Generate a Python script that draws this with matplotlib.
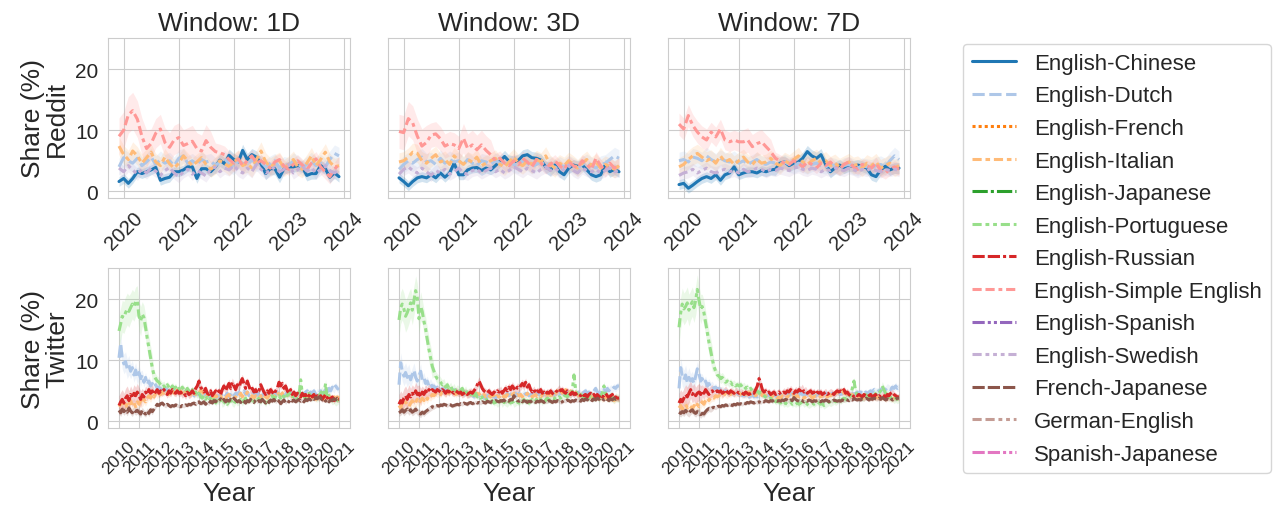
import numpy as np
import pandas as pd
import matplotlib
matplotlib.use("Agg")
import matplotlib.pyplot as plt
import matplotlib.dates as mdates
from matplotlib.lines import Line2D
import seaborn as sns

sns.set_style("whitegrid")
plt.rcParams["font.family"] = ["Liberation Sans", "DejaVu Sans"]

# ---------------------------------------------------------------- categories
pairs = ["English-Chinese", "English-Dutch", "English-French", "English-Italian",
         "English-Japanese", "English-Portuguese", "English-Russian",
         "English-Simple English", "English-Spanish", "English-Swedish",
         "French-Japanese", "German-English", "Spanish-Japanese"]
windows = ["1D", "3D", "7D"]

# ---------------------------------------------------------------- Reddit (monthly, Dec 2019 - Dec 2023)
reddit_dates = pd.date_range("2019-12-01", periods=49, freq="MS")

reddit_1d_chinese = [1.6, 2.1, 1.3, 2.1, 3.2, 2.9, 3.2, 3.5, 3.9, 1.8, 2.1, 2.3, 3.2, 3.2, 3.5, 4.0, 4.0, 2.1, 3.7, 3.7, 3.2, 4.0, 5.1, 4.5, 5.9, 5.2, 4.8, 6.7, 5.2, 6.0, 5.6, 4.5, 2.9, 3.7, 3.7, 2.3, 3.7, 4.0, 4.0, 4.2, 4.0, 2.6, 2.9, 2.9, 4.2, 3.7, 2.3, 3.0, 2.4]
reddit_1d_dutch = [4.0, 5.5, 5.0, 4.6, 5.4, 4.2, 4.8, 5.6, 4.4, 5.2, 4.6, 5.0, 4.2, 5.4, 5.8, 4.6, 5.0, 4.4, 5.2, 4.8, 5.0, 4.2, 4.8, 5.4, 4.4, 4.0, 5.0, 4.6, 4.2, 5.2, 4.4, 4.8, 4.0, 4.6, 5.0, 3.8, 4.4, 4.2, 5.0, 4.6, 3.8, 4.4, 5.0, 4.2, 4.6, 4.0, 5.2, 6.2, 5.8]
reddit_1d_italian = [7.4, 6.0, 5.2, 6.6, 5.8, 4.6, 5.5, 6.4, 4.8, 4.2, 5.6, 4.5, 3.8, 4.6, 5.8, 5.0, 4.2, 4.8, 5.5, 4.4, 3.6, 4.2, 5.0, 4.6, 4.0, 4.8, 5.4, 4.2, 4.6, 3.8, 5.2, 6.6, 4.8, 4.0, 4.5, 5.0, 3.8, 4.4, 5.2, 4.0, 3.6, 4.6, 5.8, 4.2, 5.2, 6.4, 4.8, 4.0, 4.2]
reddit_1d_simple = [9.0, 10.0, 12.5, 13.2, 11.8, 9.0, 7.0, 7.8, 9.5, 10.2, 8.0, 7.2, 8.4, 8.8, 7.5, 7.8, 8.2, 7.0, 6.6, 8.3, 7.2, 6.5, 6.3, 6.0, 5.2, 4.6, 5.3, 4.2, 5.0, 5.8, 4.6, 5.0, 4.4, 3.8, 4.8, 5.2, 4.1, 3.6, 4.4, 5.0, 4.3, 3.5, 4.6, 5.3, 4.0, 3.2, 2.4, 3.6, 4.5]
reddit_1d_swedish = [3.8, 3.2, 4.2, 3.5, 2.8, 3.6, 3.0, 3.8, 3.3, 2.6, 3.4, 3.9, 3.0, 2.4, 3.2, 3.6, 2.8, 3.4, 3.0, 2.5, 3.6, 4.0, 3.2, 3.8, 3.5, 4.2, 3.4, 3.0, 3.8, 3.2, 4.4, 3.6, 3.0, 3.4, 4.0, 3.2, 3.6, 4.4, 3.0, 3.5, 4.1, 3.3, 3.8, 3.0, 3.6, 4.2, 3.4, 3.0, 3.5]

reddit_3d_chinese = [2.2, 1.6, 0.9, 1.6, 2.2, 2.4, 2.2, 2.7, 2.2, 3.0, 2.3, 3.0, 4.6, 2.7, 2.7, 3.5, 3.8, 3.9, 3.4, 3.8, 3.5, 4.2, 4.9, 5.7, 4.9, 4.8, 5.1, 5.8, 6.0, 5.5, 5.4, 5.1, 4.0, 3.5, 4.3, 3.2, 2.7, 3.8, 4.3, 4.1, 4.3, 3.5, 2.7, 2.4, 2.7, 4.4, 3.2, 3.6, 3.2]
reddit_3d_dutch = [3.6, 4.4, 5.0, 4.6, 5.2, 5.6, 4.8, 5.0, 4.4, 5.4, 4.6, 5.2, 4.8, 5.0, 4.4, 5.2, 4.6, 4.2, 5.0, 4.8, 4.4, 5.0, 4.6, 4.2, 4.8, 4.4, 4.2, 5.0, 4.6, 4.0, 4.4, 4.8, 4.2, 4.6, 3.8, 4.4, 4.0, 4.6, 4.2, 3.8, 4.4, 4.8, 4.2, 3.8, 4.4, 4.6, 5.2, 5.8, 5.4]
reddit_3d_italian = [4.8, 5.0, 5.6, 6.4, 6.2, 5.0, 4.6, 5.4, 6.0, 4.8, 5.2, 4.4, 5.8, 5.0, 4.4, 5.2, 4.8, 5.6, 4.2, 4.6, 5.0, 5.4, 4.4, 4.0, 4.8, 5.6, 4.6, 4.2, 5.0, 4.4, 5.2, 4.8, 5.8, 4.4, 3.8, 4.6, 4.2, 5.0, 4.4, 3.8, 4.6, 5.2, 4.2, 4.8, 3.8, 4.4, 4.0, 3.6, 4.2]
reddit_3d_simple = [9.8, 9.6, 11.9, 11.2, 9.0, 7.4, 8.0, 9.2, 9.4, 8.6, 7.4, 7.8, 7.6, 7.0, 8.7, 7.0, 7.6, 6.8, 7.6, 6.7, 6.0, 5.0, 5.4, 4.6, 4.2, 5.0, 4.4, 5.4, 4.8, 4.0, 5.2, 4.6, 3.8, 4.4, 5.0, 4.2, 3.6, 4.8, 4.2, 3.8, 5.0, 4.4, 3.6, 5.4, 4.2, 3.4, 4.6, 3.8, 4.4]
reddit_3d_swedish = [2.8, 3.6, 4.0, 3.4, 3.0, 3.8, 3.2, 2.6, 3.4, 3.0, 3.6, 2.8, 3.2, 3.8, 3.0, 2.8, 3.4, 3.6, 3.0, 3.4, 3.8, 3.2, 3.6, 3.0, 3.4, 4.0, 3.6, 3.2, 3.8, 3.4, 3.0, 3.6, 4.0, 3.4, 3.8, 3.2, 3.6, 4.2, 3.4, 3.0, 3.8, 3.4, 3.2, 3.6, 3.0, 3.4, 3.8, 3.2, 3.4]

reddit_7d_chinese = [1.1, 1.3, 0.5, 1.0, 1.6, 2.1, 2.4, 2.1, 2.7, 1.8, 2.7, 3.0, 4.0, 2.7, 3.0, 3.2, 3.2, 3.0, 3.4, 3.2, 3.5, 3.6, 4.6, 4.8, 4.2, 4.6, 4.8, 5.4, 6.5, 5.8, 5.4, 6.0, 4.4, 3.2, 3.8, 4.3, 3.8, 4.2, 4.1, 4.3, 4.1, 3.8, 2.7, 2.4, 3.5, 4.1, 3.5, 3.8, 3.8]
reddit_7d_dutch = [5.0, 5.2, 4.8, 5.6, 5.4, 5.0, 5.8, 5.2, 4.8, 5.4, 5.0, 4.8, 5.2, 4.6, 5.0, 4.4, 4.8, 5.2, 4.6, 4.4, 4.8, 4.6, 4.4, 4.8, 4.4, 4.2, 4.6, 4.4, 4.0, 4.4, 4.6, 4.2, 4.0, 4.4, 4.2, 3.8, 4.2, 4.4, 4.0, 3.8, 4.2, 4.0, 3.8, 4.2, 4.4, 4.0, 5.0, 5.8, 5.2]
reddit_7d_italian = [4.0, 4.4, 5.2, 5.8, 6.2, 5.6, 5.0, 5.4, 4.6, 5.8, 4.8, 5.2, 4.4, 5.0, 5.6, 4.8, 4.4, 5.2, 4.6, 4.8, 5.4, 4.6, 4.2, 5.0, 4.6, 5.2, 5.8, 4.8, 4.4, 5.0, 5.4, 4.6, 5.0, 4.2, 4.6, 4.0, 4.4, 4.8, 4.2, 4.4, 3.8, 4.6, 4.2, 4.8, 3.8, 4.2, 4.6, 3.8, 4.2]
reddit_7d_simple = [11.0, 10.2, 12.4, 10.8, 9.7, 8.9, 8.4, 9.7, 8.9, 10.2, 8.4, 8.1, 8.4, 8.1, 8.1, 8.4, 7.3, 7.8, 8.1, 7.3, 6.5, 5.4, 5.0, 4.6, 4.4, 5.0, 4.6, 4.0, 4.8, 4.4, 3.8, 4.6, 4.2, 4.8, 4.0, 3.6, 4.4, 4.8, 4.0, 3.6, 4.4, 4.2, 3.8, 4.6, 3.4, 3.0, 3.6, 4.0, 3.6]
reddit_7d_swedish = [2.6, 3.0, 3.2, 3.6, 3.0, 3.4, 3.8, 3.2, 3.0, 3.4, 3.6, 3.2, 3.4, 3.0, 3.6, 3.2, 3.4, 3.8, 3.6, 3.2, 3.6, 3.4, 3.8, 3.6, 3.4, 3.8, 4.0, 3.6, 3.4, 3.8, 3.6, 3.2, 3.6, 3.4, 3.8, 3.6, 3.4, 3.8, 3.6, 3.2, 3.6, 3.4, 3.8, 3.4, 3.2, 3.6, 3.4, 3.6, 3.4]

# confidence half-widths, one value per 7-month block
reddit_band_chinese = [0.8, 0.8, 0.8, 1.0, 1.0, 0.9, 0.9]
reddit_band_dutch = [1.4, 1.4, 1.2, 1.3, 1.2, 1.3, 1.4]
reddit_band_italian = [1.5, 1.4, 1.3, 1.4, 1.5, 1.4, 1.4]
reddit_band_swedish = [1.0, 1.0, 1.0, 1.0, 1.0, 1.0, 1.0]
reddit_band_simple_1d = [3.0, 2.4, 2.6, 1.4, 1.0, 1.0, 1.2]
reddit_band_simple_3d = [2.8, 2.0, 2.4, 1.2, 1.0, 1.0, 1.1]
reddit_band_simple_7d = [1.8, 1.6, 2.0, 1.0, 0.9, 0.9, 1.0]

# ---------------------------------------------------------------- Twitter (monthly, Jan 2010 - Jan 2021)
twitter_dates = pd.date_range("2010-01-01", periods=133, freq="MS")

twitter_1d_dutch = [10.4, 12.8, 10.2, 9.4, 9.8, 8.6, 9.2, 8.2, 8.8, 7.6, 8.4, 7.2,
                    8.0, 7.0, 7.6, 6.4, 7.2, 6.0, 6.6, 5.8, 6.2, 5.6, 6.0, 5.4,
                    5.6, 5.2, 5.8, 5.0, 5.4, 5.2, 4.8, 5.4, 5.0, 5.2, 4.8, 5.0,
                    5.2, 4.8, 5.0, 4.6, 5.0, 4.8, 4.4, 4.8, 4.6, 4.2, 4.6, 4.4,
                    4.6, 4.2, 4.4, 4.0, 4.4, 4.2, 4.6, 4.0, 4.4, 4.2, 3.8, 4.2,
                    4.0, 4.4, 4.2, 3.8, 4.2, 4.6, 4.0, 4.4, 4.8, 4.2, 4.6, 4.4,
                    4.8, 4.4, 4.6, 5.0, 4.4, 4.8, 4.2, 4.6, 4.4, 4.8, 4.2, 4.6,
                    4.4, 4.8, 4.2, 4.6, 4.4, 4.0, 4.4, 4.2, 4.6, 4.2, 4.4, 4.8,
                    4.2, 4.6, 4.4, 4.0, 4.4, 4.8, 4.2, 4.6, 4.4, 4.0, 4.6, 4.4,
                    4.8, 4.4, 4.6, 4.2, 4.8, 5.0, 4.4, 4.8, 4.6, 5.0, 4.4, 4.8,
                    4.6, 5.0, 4.4, 4.8, 5.2, 4.6, 5.4, 5.0, 5.6, 5.2, 5.8, 5.4,
                    5.2]
twitter_1d_italian = [2.4, 2.8, 3.2, 2.6, 3.0, 2.2, 2.8, 3.4, 2.6, 3.0, 2.4, 3.2,
                      2.8, 3.4, 3.0, 3.6, 3.2, 3.8, 4.2, 3.8, 4.4, 4.0, 4.6, 4.2,
                      4.6, 4.4, 4.8, 4.6, 5.0, 4.8, 4.4, 4.8, 5.0, 4.6, 4.8, 5.2,
                      4.8, 5.0, 4.6, 5.2, 4.8, 5.0, 4.6, 4.4, 4.8, 4.6, 4.4, 4.8,
                      4.6, 5.2, 4.8, 4.4, 4.6, 4.2, 4.4, 4.0, 4.2, 3.8, 4.2, 4.0,
                      3.8, 4.2, 3.6, 4.0, 3.8, 4.2, 4.4, 4.0, 4.2, 3.8, 4.0, 4.4,
                      4.2, 4.6, 4.0, 4.4, 4.2, 4.8, 4.4, 4.0, 4.2, 3.8, 4.2, 4.0,
                      3.8, 4.2, 4.0, 4.4, 4.0, 3.8, 4.2, 4.6, 4.2, 4.0, 4.4, 4.8,
                      4.4, 4.2, 4.6, 4.8, 4.4, 4.2, 4.6, 4.4, 4.0, 4.4, 4.2, 4.6,
                      4.2, 4.0, 4.4, 4.2, 3.8, 4.2, 4.0, 3.8, 4.2, 4.0, 3.6, 4.0,
                      3.8, 4.2, 4.0, 3.6, 4.0, 3.8, 4.2, 3.8, 3.6, 4.0, 3.8, 4.0,
                      3.8]
twitter_1d_portuguese = [14.8, 16.0, 17.2, 17.0, 17.8, 18.4, 18.0, 18.6, 19.2, 18.8, 19.6, 19.8,
                         17.2, 16.4, 17.6, 17.0, 15.4, 13.6, 12.0, 10.4, 8.8, 7.6, 7.0, 6.6,
                         6.4, 6.0, 5.6, 5.8, 5.4, 6.0, 5.6, 5.2, 5.8, 5.4, 5.6, 5.0,
                         5.4, 5.0, 5.6, 5.2, 4.8, 5.4, 5.0, 4.6, 5.2, 4.4, 4.8, 4.2,
                         4.6, 4.0, 3.8, 4.2, 3.6, 4.0, 3.4, 3.8, 3.2, 3.6, 3.0, 3.4,
                         3.2, 3.6, 2.8, 3.0, 3.4, 2.8, 3.2, 3.6, 3.0, 2.8, 3.4, 3.0,
                         3.2, 3.6, 3.0, 3.4, 3.8, 3.2, 3.6, 3.4, 3.8, 3.2, 3.6, 4.0,
                         3.6, 3.2, 3.8, 3.4, 3.0, 3.6, 3.2, 3.8, 4.2, 3.6, 4.0, 3.8,
                         4.2, 3.8, 4.4, 4.0, 4.6, 4.2, 4.8, 4.2, 3.8, 4.4, 4.0, 3.6,
                         4.0, 6.8, 4.6, 4.2, 3.6, 4.0, 4.6, 4.2, 3.8, 4.4, 4.0, 3.8,
                         4.2, 4.6, 5.0, 4.4, 6.2, 3.6, 4.2, 3.8, 3.4, 3.6, 3.2, 3.4,
                         3.6]
twitter_1d_russian = [2.6, 3.2, 3.6, 3.0, 3.8, 4.2, 3.4, 4.4, 3.8, 4.6, 4.2, 4.8,
                      4.2, 3.6, 4.4, 4.0, 4.8, 4.4, 5.2, 4.6, 5.0, 4.4, 4.8, 5.2,
                      4.6, 5.0, 4.8, 5.2, 4.8, 4.4, 5.0, 4.6, 5.2, 4.8, 4.6, 5.0,
                      4.6, 4.8, 4.4, 4.6, 4.2, 4.8, 4.4, 4.6, 5.0, 4.6, 5.4, 5.8,
                      6.6, 5.6, 5.2, 4.8, 5.4, 4.6, 4.4, 5.0, 4.2, 4.6, 5.0, 4.6,
                      5.0, 4.4, 5.2, 5.8, 5.0, 5.6, 6.2, 5.4, 6.4, 5.8, 5.2, 6.0,
                      5.6, 6.4, 7.0, 6.2, 5.4, 6.6, 5.8, 5.0, 5.4, 4.8, 5.2, 4.6,
                      5.0, 6.0, 5.4, 4.8, 4.4, 5.0, 4.6, 5.2, 4.8, 4.4, 5.0, 5.4,
                      6.4, 5.8, 6.2, 5.4, 5.8, 5.0, 4.6, 5.2, 4.4, 4.8, 4.2, 4.6,
                      4.4, 4.0, 4.6, 4.2, 4.4, 3.8, 4.2, 4.6, 4.0, 4.4, 3.8, 4.2,
                      3.8, 4.2, 3.6, 4.0, 4.4, 3.8, 4.2, 3.6, 4.0, 3.4, 3.8, 3.6,
                      3.6]
twitter_1d_frja = [1.8, 1.4, 2.0, 1.6, 1.9, 1.5, 2.2, 1.7, 1.4, 1.9, 1.6, 1.8,
                   1.5, 1.2, 1.8, 1.4, 1.2, 1.7, 1.3, 1.9, 1.6, 2.0, 2.4, 2.8,
                   2.6, 2.9, 3.0, 2.7, 2.5, 2.8, 2.6, 2.4, 2.6, 2.5, 2.7, 2.6,
                   2.5, 2.4, 2.6, 2.5, 2.7, 2.6, 2.8, 2.7, 2.9, 3.0, 2.8, 3.1,
                   3.2, 2.9, 3.0, 3.2, 2.8, 3.1, 2.9, 3.3, 3.0, 3.4, 3.2, 3.6,
                   3.4, 3.7, 3.3, 3.6, 3.2, 3.5, 3.3, 3.6, 3.4, 3.8, 3.5, 3.2,
                   3.4, 3.1, 3.5, 3.3, 3.0, 3.4, 3.2, 3.6, 3.3, 3.1, 3.5, 3.2,
                   3.4, 3.2, 3.6, 3.3, 3.0, 3.4, 3.1, 3.5, 3.3, 3.6, 3.2, 3.5,
                   3.3, 2.9, 3.2, 3.5, 3.1, 3.4, 3.2, 3.6, 3.3, 3.5, 3.2, 3.4,
                   3.6, 3.3, 3.5, 3.2, 3.6, 3.4, 3.7, 3.5, 3.8, 3.6, 3.9, 3.7,
                   4.0, 3.8, 3.5, 3.7, 3.3, 3.6, 3.2, 3.5, 3.4, 3.7, 3.5, 3.8,
                   3.6]

twitter_3d_dutch = [6.0, 9.6, 8.2, 7.4, 8.0, 7.2, 7.8, 6.8, 7.6, 8.4, 7.2, 6.6,
                    7.4, 8.2, 6.8, 7.2, 6.2, 6.6, 5.8, 6.2, 5.6, 5.8, 5.2, 5.6,
                    5.2, 5.0, 5.4, 4.8, 5.2, 5.0, 4.6, 5.0, 4.8, 5.2, 4.6, 4.8,
                    5.0, 4.6, 4.8, 4.4, 4.8, 4.6, 4.2, 4.6, 4.4, 4.0, 4.4, 4.2,
                    4.4, 4.0, 4.2, 3.8, 4.2, 4.0, 4.4, 3.8, 4.2, 4.0, 3.8, 4.2,
                    4.0, 4.2, 4.4, 4.0, 4.2, 4.6, 4.2, 4.4, 4.8, 4.4, 4.6, 4.2,
                    4.6, 4.2, 4.4, 4.8, 4.4, 4.6, 4.2, 4.4, 4.6, 4.8, 4.4, 4.6,
                    4.4, 4.6, 4.2, 4.6, 4.4, 4.2, 4.6, 4.4, 4.8, 4.4, 4.6, 4.8,
                    4.4, 4.6, 4.8, 4.4, 4.6, 4.8, 4.4, 4.8, 4.6, 4.4, 4.8, 4.6,
                    4.8, 4.6, 4.4, 4.8, 5.0, 4.6, 4.8, 4.4, 4.6, 5.0, 5.4, 4.8,
                    4.6, 5.0, 4.8, 5.2, 4.8, 5.4, 5.0, 5.4, 5.2, 5.6, 5.4, 5.8,
                    5.8]
twitter_3d_italian = [2.6, 2.2, 3.0, 2.6, 3.2, 2.8, 2.4, 3.0, 3.4, 2.8, 3.2, 3.6,
                      3.0, 3.4, 3.8, 3.4, 4.0, 3.6, 4.2, 4.0, 4.4, 4.2, 4.6, 4.4,
                      4.6, 4.4, 4.8, 4.6, 4.4, 4.8, 4.6, 5.0, 4.6, 4.8, 4.4, 4.6,
                      4.8, 4.6, 4.4, 4.8, 4.6, 4.2, 4.6, 4.4, 4.8, 4.4, 4.2, 4.6,
                      4.4, 4.6, 4.2, 4.4, 4.0, 4.4, 4.2, 4.0, 4.4, 4.2, 3.8, 4.2,
                      4.0, 4.2, 3.8, 4.2, 4.0, 4.4, 4.2, 4.0, 4.4, 4.6, 4.2, 4.4,
                      4.2, 4.4, 4.0, 4.4, 4.2, 4.6, 4.2, 4.4, 4.0, 4.2, 4.4, 4.0,
                      4.2, 4.0, 4.4, 4.2, 4.0, 4.4, 4.6, 4.2, 4.4, 4.8, 4.6, 5.0,
                      4.8, 5.0, 4.6, 4.8, 5.2, 4.8, 4.6, 5.0, 4.6, 4.4, 4.8, 4.4,
                      4.2, 4.4, 4.0, 4.2, 3.8, 4.2, 4.0, 4.2, 3.8, 4.0, 3.8, 4.0,
                      3.8, 4.0, 3.6, 3.8, 4.0, 3.6, 3.8, 3.6, 3.8, 3.4, 3.6, 3.8,
                      3.6]
twitter_3d_portuguese = [16.6, 18.6, 19.2, 18.4, 17.2, 17.8, 18.6, 19.4, 18.2, 19.8, 21.4, 20.2,
                         16.8, 18.8, 18.0, 16.4, 15.2, 13.4, 11.8, 10.4, 9.0, 8.2, 7.4, 7.0,
                         6.8, 6.4, 6.0, 6.2, 5.6, 6.0, 5.4, 5.8, 5.2, 5.6, 5.0, 5.4,
                         5.2, 5.0, 5.4, 4.8, 5.2, 4.6, 5.0, 4.4, 4.8, 4.2, 4.6, 4.0,
                         4.2, 3.8, 4.0, 3.6, 3.8, 3.4, 3.6, 3.2, 3.4, 3.0, 3.2, 2.8,
                         3.0, 3.4, 2.8, 3.2, 3.0, 2.8, 3.2, 3.0, 3.4, 2.8, 3.0, 3.2,
                         3.0, 3.4, 3.2, 3.6, 3.2, 3.4, 3.0, 3.4, 3.6, 3.2, 3.4, 3.8,
                         3.4, 3.6, 3.2, 3.6, 3.4, 3.8, 3.6, 3.4, 3.8, 3.6, 4.0, 3.8,
                         4.0, 3.8, 4.2, 4.0, 4.4, 4.0, 4.4, 4.2, 5.0, 7.6, 5.2, 4.4,
                         4.0, 4.4, 4.2, 3.8, 4.2, 4.0, 3.8, 4.4, 4.2, 3.8, 4.0, 4.2,
                         3.8, 4.2, 4.6, 5.8, 4.4, 4.0, 3.8, 4.2, 3.8, 3.6, 4.0, 3.8,
                         3.8]
twitter_3d_russian = [2.8, 3.4, 3.0, 3.8, 4.2, 3.6, 4.4, 4.0, 4.6, 4.2, 5.0, 4.4,
                      4.6, 4.0, 4.8, 4.4, 5.0, 4.6, 5.2, 4.8, 5.2, 5.0, 4.8, 5.2,
                      5.0, 4.8, 5.2, 5.0, 4.6, 5.0, 4.8, 5.2, 4.8, 4.6, 5.0, 4.8,
                      4.6, 4.8, 4.4, 4.6, 4.8, 4.4, 4.6, 4.8, 4.6, 5.0, 5.4, 6.0,
                      6.6, 6.0, 5.4, 5.0, 4.8, 4.6, 5.0, 4.6, 4.4, 4.8, 4.6, 5.0,
                      4.8, 5.2, 4.6, 5.0, 5.4, 5.0, 5.6, 5.2, 5.8, 5.4, 5.0, 5.6,
                      5.4, 5.8, 6.2, 5.8, 6.4, 5.6, 6.0, 5.2, 4.8, 5.2, 4.6, 5.0,
                      4.8, 5.2, 4.6, 4.8, 4.4, 4.8, 4.6, 5.0, 4.6, 4.4, 4.8, 5.0,
                      5.4, 5.0, 5.2, 4.8, 4.6, 5.0, 4.6, 4.4, 4.8, 4.4, 4.6, 4.2,
                      4.4, 4.2, 4.6, 4.2, 4.4, 4.0, 4.4, 4.6, 4.2, 4.4, 4.0, 4.4,
                      4.0, 4.4, 4.0, 4.2, 4.6, 4.2, 3.8, 4.2, 4.4, 3.8, 4.0, 3.8,
                      3.8]
twitter_3d_frja = [1.4, 1.6, 1.9, 1.5, 1.8, 2.0, 1.6, 1.9, 1.5, 1.7, 2.0, 1.6,
                   1.4, 1.2, 1.5, 1.3, 1.6, 1.8, 2.0, 2.2, 2.4, 2.3, 2.5, 2.6,
                   2.5, 2.7, 2.6, 2.8, 2.7, 2.6, 2.8, 2.7, 2.5, 2.6, 2.7, 2.8,
                   2.7, 2.9, 2.8, 3.0, 2.9, 2.8, 3.0, 3.1, 2.9, 3.0, 3.2, 3.0,
                   3.1, 3.0, 3.2, 3.1, 3.0, 3.3, 3.2, 3.1, 3.3, 3.2, 3.4, 3.3,
                   3.2, 3.4, 3.3, 3.5, 3.2, 3.4, 3.3, 3.6, 3.5, 4.2, 3.8, 3.4,
                   3.3, 3.5, 3.2, 3.4, 3.3, 3.1, 3.3, 3.2, 3.4, 3.3, 3.1, 3.3,
                   3.2, 3.4, 3.3, 3.1, 3.3, 3.2, 3.4, 3.3, 3.1, 3.3, 3.2, 3.4,
                   3.3, 3.1, 3.2, 3.4, 3.3, 3.5, 3.4, 3.2, 3.4, 3.3, 3.5, 3.4,
                   3.5, 3.3, 3.6, 3.4, 3.7, 3.5, 3.8, 3.6, 3.4, 3.7, 3.5, 3.8,
                   3.6, 3.9, 3.7, 3.5, 3.8, 3.6, 3.4, 3.7, 3.5, 3.8, 3.6, 3.7,
                   3.6]

twitter_7d_dutch = [5.4, 8.8, 7.4, 6.8, 7.6, 6.4, 7.2, 6.6, 7.0, 6.2, 7.4, 8.6,
                    7.8, 6.6, 7.0, 6.2, 6.6, 5.8, 6.2, 5.6, 5.8, 5.4, 5.6, 5.2,
                    5.4, 5.0, 5.2, 4.8, 5.0, 4.8, 4.6, 4.8, 4.6, 4.4, 4.8, 4.6,
                    4.4, 4.6, 4.2, 4.4, 4.2, 4.4, 4.0, 4.2, 4.4, 4.0, 4.2, 4.0,
                    4.2, 4.0, 4.4, 4.2, 4.0, 4.2, 4.4, 4.2, 4.0, 4.4, 4.2, 4.0,
                    4.2, 4.4, 4.0, 4.2, 4.4, 4.6, 4.2, 4.4, 4.6, 4.4, 4.6, 4.2,
                    4.4, 4.6, 4.4, 4.2, 4.6, 4.4, 4.2, 4.4, 4.6, 4.4, 4.2, 4.4,
                    4.6, 4.4, 4.2, 4.4, 4.6, 4.4, 4.2, 4.4, 4.6, 4.4, 4.6, 4.4,
                    4.6, 4.4, 4.6, 4.8, 4.6, 4.4, 4.6, 4.8, 4.6, 4.4, 4.6, 4.8,
                    4.6, 4.8, 4.6, 4.4, 4.8, 4.6, 4.8, 5.0, 4.8, 5.2, 5.0, 4.8,
                    5.0, 5.2, 5.4, 5.0, 5.2, 5.6, 5.4, 5.2, 5.6, 5.4, 5.8, 5.4,
                    5.6]
twitter_7d_italian = [2.2, 2.6, 2.0, 2.4, 2.8, 2.2, 2.6, 2.4, 2.0, 2.6, 2.2, 2.8,
                      2.4, 2.8, 3.2, 2.8, 3.4, 3.8, 3.4, 3.8, 4.0, 3.8, 4.2, 4.0,
                      4.2, 4.4, 4.2, 4.6, 4.4, 4.2, 4.6, 4.4, 4.8, 4.6, 4.4, 4.6,
                      4.6, 4.4, 4.8, 4.6, 4.4, 4.6, 4.8, 4.4, 4.6, 4.4, 4.2, 4.6,
                      4.4, 4.6, 4.2, 4.4, 4.2, 4.0, 4.2, 4.0, 4.2, 3.8, 4.0, 3.8,
                      4.0, 3.8, 4.2, 4.0, 3.8, 4.0, 4.2, 4.0, 4.4, 4.2, 4.0, 4.2,
                      4.0, 4.2, 4.0, 3.8, 4.0, 4.2, 4.0, 4.2, 3.8, 4.0, 4.2, 4.0,
                      4.2, 4.0, 4.2, 4.4, 4.2, 4.0, 4.4, 4.2, 4.6, 4.4, 4.6, 4.8,
                      4.6, 4.8, 5.0, 4.6, 4.8, 4.4, 4.6, 4.2, 4.4, 4.2, 4.0, 4.2,
                      4.0, 4.2, 4.0, 3.8, 4.0, 4.2, 3.8, 4.0, 3.8, 4.0, 3.8, 4.0,
                      3.8, 4.0, 3.8, 4.0, 3.6, 3.8, 4.0, 3.8, 3.6, 3.8, 4.0, 3.8,
                      3.8]
twitter_7d_portuguese = [15.4, 17.8, 19.2, 18.4, 18.8, 19.4, 18.2, 19.0, 19.6, 18.6, 19.8, 21.6,
                         19.8, 18.4, 18.8, 17.8, 16.2, 14.6, 13.0, 11.6, 10.2, 9.0, 8.2, 7.6,
                         7.4, 7.0, 7.2, 6.8, 6.4, 6.6, 6.2, 6.4, 6.0, 6.2, 5.8, 6.0,
                         5.8, 6.0, 5.6, 5.8, 5.4, 5.6, 5.2, 5.4, 5.0, 5.2, 4.8, 5.0,
                         4.6, 4.8, 4.4, 4.2, 4.0, 3.8, 3.6, 3.8, 3.4, 3.6, 3.2, 3.4,
                         3.2, 3.0, 3.2, 2.8, 3.0, 2.8, 3.0, 3.2, 2.8, 3.0, 2.8, 3.0,
                         2.8, 3.0, 3.2, 2.8, 3.0, 2.8, 2.6, 2.8, 3.0, 2.8, 3.0, 3.2,
                         3.0, 2.8, 3.0, 2.6, 2.8, 3.0, 3.2, 3.0, 3.2, 3.4, 3.2, 3.4,
                         3.6, 3.4, 3.6, 3.8, 3.6, 4.0, 3.8, 4.2, 5.4, 6.6, 5.0, 4.2,
                         4.0, 4.2, 3.8, 4.0, 4.4, 4.2, 4.0, 4.4, 4.2, 4.6, 4.4, 4.8,
                         4.6, 5.0, 5.8, 5.2, 4.6, 4.4, 4.2, 3.8, 4.0, 3.6, 3.8, 3.6,
                         3.8]
twitter_7d_russian = [3.0, 3.6, 3.2, 3.8, 4.4, 4.0, 4.6, 5.2, 4.4, 4.8, 4.2, 4.6,
                      4.8, 4.4, 5.0, 4.6, 5.2, 4.8, 4.4, 4.8, 5.0, 4.6, 4.8, 5.0,
                      4.8, 5.0, 4.6, 4.8, 5.2, 4.8, 4.6, 5.0, 4.8, 4.6, 5.0, 4.8,
                      4.6, 4.8, 4.6, 4.4, 4.8, 4.6, 4.4, 4.6, 4.8, 4.6, 5.2, 5.8,
                      7.0, 6.2, 5.2, 4.8, 5.0, 4.6, 4.8, 4.4, 4.6, 4.8, 4.4, 4.6,
                      4.8, 4.4, 4.6, 4.8, 4.6, 5.0, 4.8, 5.2, 4.8, 4.6, 5.0, 4.8,
                      5.2, 5.0, 5.4, 4.8, 5.0, 4.6, 4.8, 5.0, 4.6, 4.8, 4.4, 4.8,
                      4.6, 4.8, 4.4, 4.6, 4.8, 4.4, 4.6, 4.8, 4.6, 4.4, 4.8, 5.0,
                      4.8, 5.0, 4.8, 5.2, 4.6, 4.8, 4.4, 4.2, 4.4, 4.0, 4.4, 4.2,
                      4.4, 4.2, 4.0, 4.4, 4.2, 4.0, 4.2, 4.4, 4.0, 4.2, 4.4, 4.0,
                      4.2, 4.0, 4.4, 4.2, 4.0, 4.4, 4.2, 4.6, 4.8, 4.4, 4.2, 4.0,
                      4.0]
twitter_7d_frja = [1.5, 1.3, 1.6, 1.4, 1.8, 1.5, 1.3, 1.7, 1.9, 1.5, 1.3, 1.6,
                   1.4, 1.1, 1.3, 1.2, 1.6, 1.9, 2.1, 2.0, 2.2, 2.3, 2.2, 2.4,
                   2.5, 2.4, 2.6, 2.5, 2.7, 2.6, 2.8, 2.7, 2.6, 2.8, 2.7, 2.9,
                   2.8, 2.9, 2.8, 3.0, 2.9, 3.1, 3.0, 3.2, 3.1, 3.0, 3.2, 3.1,
                   3.2, 3.1, 3.3, 3.2, 3.4, 3.3, 3.2, 3.4, 3.3, 3.5, 3.4, 3.3,
                   3.4, 3.3, 3.5, 3.4, 3.6, 3.5, 3.3, 3.5, 3.4, 3.9, 3.6, 3.4,
                   3.3, 3.5, 3.4, 3.2, 3.4, 3.3, 3.5, 3.4, 3.2, 3.4, 3.3, 3.5,
                   3.4, 3.2, 3.4, 3.3, 3.5, 3.4, 3.2, 3.4, 3.3, 3.5, 3.4, 3.3,
                   3.4, 3.3, 3.5, 3.4, 3.6, 3.5, 3.4, 3.6, 3.5, 3.7, 3.6, 3.5,
                   3.6, 3.5, 3.7, 3.6, 3.8, 3.7, 3.5, 3.7, 3.6, 3.8, 3.7, 3.6,
                   3.8, 3.6, 3.9, 3.7, 3.5, 3.7, 3.6, 3.8, 3.5, 3.7, 3.6, 3.8,
                   3.8]

# confidence half-widths, one value per 7-month block
twitter_band_dutch = [1.6, 1.2, 0.8, 0.6, 0.5, 0.5, 0.5, 0.5, 0.5, 0.5, 0.5, 0.5, 0.5, 0.5, 0.5, 0.5, 0.5, 0.6, 0.6]
twitter_band_italian = [0.8, 0.8, 0.7, 0.5, 0.5, 0.5, 0.5, 0.5, 0.5, 0.5, 0.5, 0.5, 0.5, 0.5, 0.5, 0.5, 0.5, 0.5, 0.5]
twitter_band_portuguese = [2.6, 2.4, 2.0, 0.8, 0.6, 0.6, 0.5, 0.5, 0.5, 0.5, 0.5, 0.5, 0.6, 0.6, 0.6, 0.6, 0.6, 0.7, 0.7]
twitter_band_russian = [1.6, 1.4, 1.0, 0.7, 0.6, 0.6, 0.7, 0.6, 0.6, 0.7, 0.7, 0.6, 0.6, 0.6, 0.6, 0.5, 0.5, 0.5, 0.5]
twitter_band_frja = [0.6, 0.6, 0.5, 0.3, 0.3, 0.3, 0.3, 0.3, 0.3, 0.3, 0.3, 0.3, 0.3, 0.3, 0.3, 0.3, 0.3, 0.3, 0.3]

# ---------------------------------------------------------------- assemble panels
reddit = {
    "1D": {"English-Chinese": (reddit_1d_chinese, reddit_band_chinese),
           "English-Dutch": (reddit_1d_dutch, reddit_band_dutch),
           "English-Italian": (reddit_1d_italian, reddit_band_italian),
           "English-Simple English": (reddit_1d_simple, reddit_band_simple_1d),
           "English-Swedish": (reddit_1d_swedish, reddit_band_swedish)},
    "3D": {"English-Chinese": (reddit_3d_chinese, reddit_band_chinese),
           "English-Dutch": (reddit_3d_dutch, reddit_band_dutch),
           "English-Italian": (reddit_3d_italian, reddit_band_italian),
           "English-Simple English": (reddit_3d_simple, reddit_band_simple_3d),
           "English-Swedish": (reddit_3d_swedish, reddit_band_swedish)},
    "7D": {"English-Chinese": (reddit_7d_chinese, reddit_band_chinese),
           "English-Dutch": (reddit_7d_dutch, reddit_band_dutch),
           "English-Italian": (reddit_7d_italian, reddit_band_italian),
           "English-Simple English": (reddit_7d_simple, reddit_band_simple_7d),
           "English-Swedish": (reddit_7d_swedish, reddit_band_swedish)},
}
twitter = {
    "1D": {"English-Dutch": (twitter_1d_dutch, twitter_band_dutch),
           "English-Italian": (twitter_1d_italian, twitter_band_italian),
           "English-Portuguese": (twitter_1d_portuguese, twitter_band_portuguese),
           "English-Russian": (twitter_1d_russian, twitter_band_russian),
           "French-Japanese": (twitter_1d_frja, twitter_band_frja)},
    "3D": {"English-Dutch": (twitter_3d_dutch, twitter_band_dutch),
           "English-Italian": (twitter_3d_italian, twitter_band_italian),
           "English-Portuguese": (twitter_3d_portuguese, twitter_band_portuguese),
           "English-Russian": (twitter_3d_russian, twitter_band_russian),
           "French-Japanese": (twitter_3d_frja, twitter_band_frja)},
    "7D": {"English-Dutch": (twitter_7d_dutch, twitter_band_dutch),
           "English-Italian": (twitter_7d_italian, twitter_band_italian),
           "English-Portuguese": (twitter_7d_portuguese, twitter_band_portuguese),
           "English-Russian": (twitter_7d_russian, twitter_band_russian),
           "French-Japanese": (twitter_7d_frja, twitter_band_frja)},
}

# ---------------------------------------------------------------- styling
palette = dict(zip(pairs, sns.color_palette("tab20", len(pairs))))
dash_specs = [
    "", (4, 1.5), (1, 1), (3, 1.25, 1.5, 1.25), (5, 1, 1, 1),
    (3, 1.25, 1.25, 1.25, 1.25, 1.25), (4, 1, 4, 1, 1, 1),
    (3, 1.25, 3, 1.25, 1.25, 1.25), (4, 1, 1, 1, 1, 1),
    (3, 1.25, 1.25, 1.25, 1.25, 1.25, 1.25, 1.25), (4, 1, 4, 1, 4, 1, 1, 1),
    (3, 1.25, 3, 1.25, 1.25, 1.25, 1.25, 1.25), (4, 1, 4, 1, 1, 1, 1, 1),
]
dashes = dict(zip(pairs, dash_specs))
LW = 2.2
TEXT = "0.15"


def draw_series(ax, dates, series):
    for name in pairs:
        if name not in series:
            continue
        values, band = series[name]
        y = np.asarray(values, dtype=float)
        half = np.repeat(np.asarray(band, dtype=float), len(y) // len(band))
        ax.fill_between(dates, y - half, y + half, color=palette[name],
                        alpha=0.2, linewidth=0)
        kw = {} if dashes[name] == "" else {"dashes": dashes[name]}
        ax.plot(dates, y, color=palette[name], lw=LW, **kw)


fig, axes = plt.subplots(2, 3, figsize=(12.81, 5.06), dpi=100, sharey=True)
fig.subplots_adjust(left=0.0843, right=0.7104, top=0.923, bottom=0.152,
                    wspace=0.157, hspace=0.4375)

for j, w in enumerate(windows):
    ax = axes[0, j]
    draw_series(ax, reddit_dates, reddit[w])
    ax.set_title(f"Window: {w}", fontsize=19, color=TEXT)
    ax.xaxis.set_major_locator(mdates.YearLocator())
    ax.xaxis.set_major_formatter(mdates.DateFormatter("%Y"))
    ax.tick_params(axis="x", labelsize=14.5, rotation=45, colors=TEXT)
    ax.set_xlabel("")

    ax = axes[1, j]
    draw_series(ax, twitter_dates, twitter[w])
    ax.xaxis.set_major_locator(mdates.YearLocator())
    ax.xaxis.set_major_formatter(mdates.DateFormatter("%Y"))
    ax.tick_params(axis="x", labelsize=12.5, rotation=45, colors=TEXT)
    ax.set_xlabel("Year", fontsize=19, color=TEXT)

for ax in axes.flat:
    ax.set_ylim(-1.1, 25.1)
    ax.set_yticks([0, 10, 20])
    ax.tick_params(axis="y", labelsize=15, colors=TEXT)
    for s in ax.spines.values():
        s.set_color("0.8")

axes[0, 0].set_ylabel("Share (%)\nReddit", fontsize=19, color=TEXT, linespacing=1.0)
axes[1, 0].set_ylabel("Share (%)\nTwitter", fontsize=19, color=TEXT, linespacing=1.0)

handles = []
for name in pairs:
    kw = {} if dashes[name] == "" else {"dashes": dashes[name]}
    handles.append(Line2D([], [], color=palette[name], lw=LW, **kw))
leg = fig.legend(handles, pairs, loc="upper left",
                 bbox_to_anchor=(963 / 1281, 1 - 45 / 506), borderaxespad=0,
                 fontsize=16, labelspacing=0.52, frameon=True)
for t in leg.get_texts():
    t.set_color(TEXT)

fig.savefig("out.png", dpi=100)
